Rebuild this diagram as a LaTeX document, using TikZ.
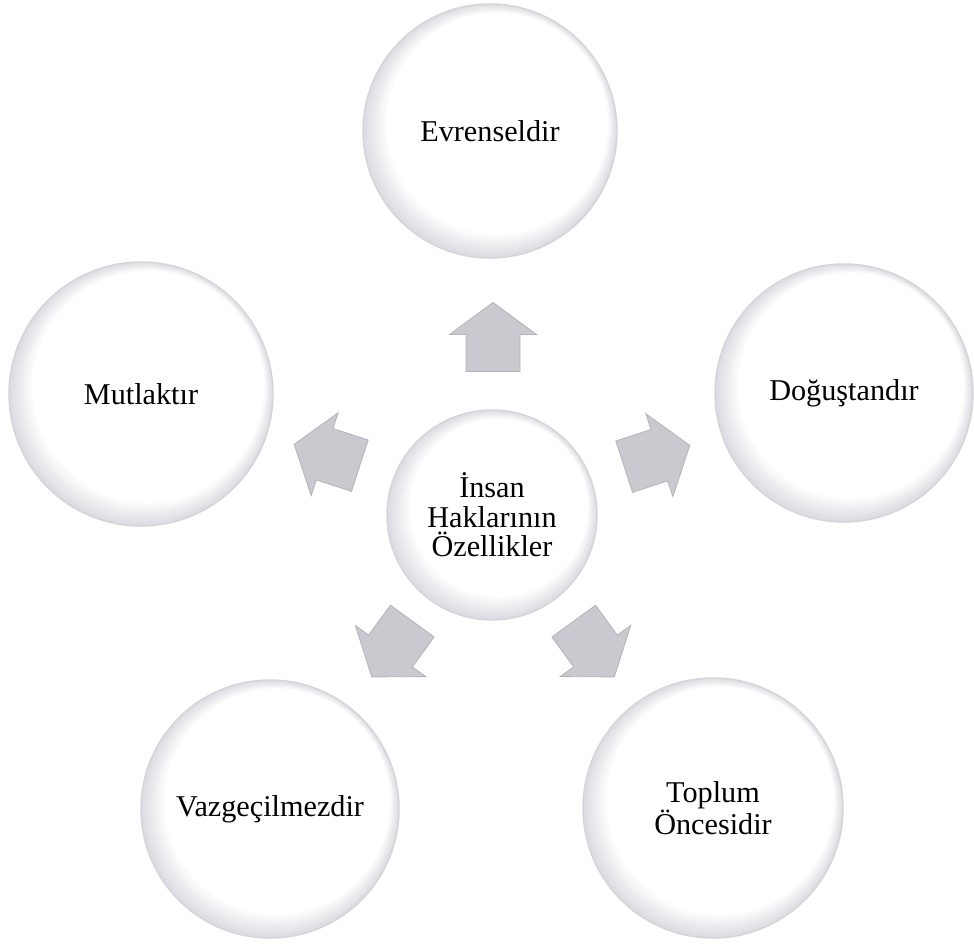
\documentclass[tikz,border=0pt]{standalone}
\usepackage{fontspec}
\setmainfont{Liberation Serif}
\usetikzlibrary{positioning}
\definecolor{rimgray}{HTML}{D4D4D9}
\definecolor{shadegray}{HTML}{DCDCE2}
\definecolor{arrowgray}{HTML}{C9C9CF}
\definecolor{arrowedge}{HTML}{B4B4BC}

\begin{document}
\begin{tikzpicture}[x=0.25mm, y=-0.25mm,
    every node/.style={font=\fontsize{21.5pt}{21pt}\selectfont, align=center},
    bubblenode/.style={circle, draw=rimgray, line width=1pt, inner sep=0pt, minimum size=#1,
        path picture={
            \foreach \k in {0,...,10}{
                \pgfmathtruncatemacro\pct{100-10*\k}
                \fill[shadegray!\pct!white] ([shift={(\k*0.18mm,\k*0.18mm)}]path picture bounding box.center) circle ({#1/2-\k*0.4mm});
            }
        }},
    blockarr/.style={fill=arrowgray, draw=arrowedge, line width=0.6pt, line join=miter}]
    \useasboundingbox (0,0) rectangle (974,945);

    \node[bubblenode=52.5mm] (M) at (492,515) {İnsan\\Haklarının\\Özellikler};

    \node[bubblenode=63.5mm] (E) at (490,131) {Evrenseldir};
    \node[bubblenode=64.5mm] (D) at (844,393) {Doğuştandır};
    \node[bubblenode=65mm] (T) at (713,808) {Toplum\\Öncesidir};
    \node[bubblenode=64.5mm] (V) at (270,809) {Vazgeçilmezdir};
    \node[bubblenode=66mm] (L) at (141,394) {Mutlaktır};

    % block arrows pointing out from the middle
    \foreach \ang/\px/\py in {90/493/337, 18/657/456, -54/594/649, -126/392/649, 162/327/455}
        \draw[blockarr, shift={(\px,\py)}, rotate=\ang] (34.5,0) -- (2.5,43.5) -- (2.5,27) -- (-34.5,27) -- (-34.5,-27) -- (2.5,-27) -- (2.5,-43.5) -- cycle;
\end{tikzpicture}
\end{document}
